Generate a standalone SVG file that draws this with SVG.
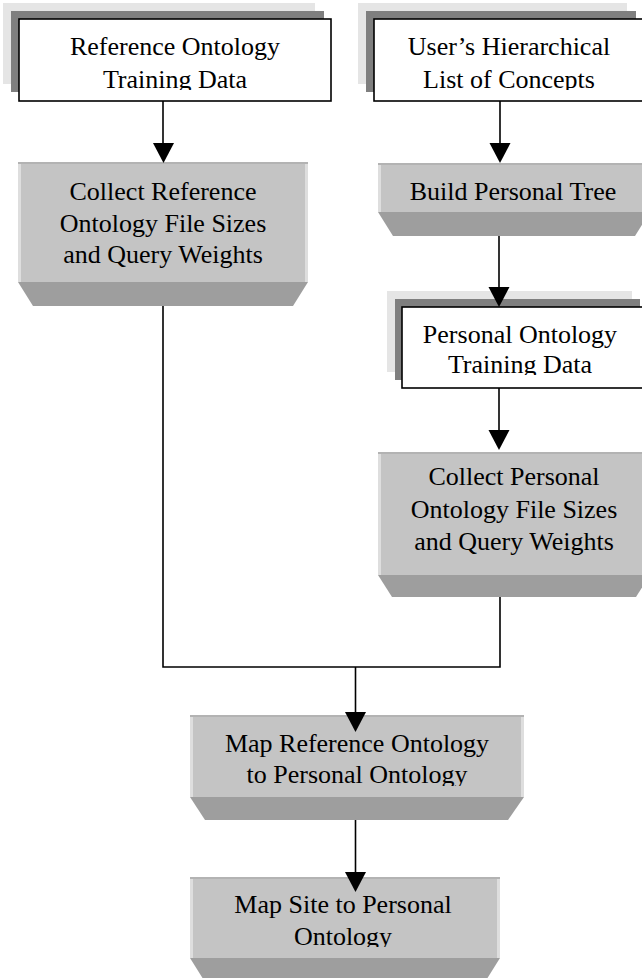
<svg xmlns="http://www.w3.org/2000/svg" width="642" height="978" viewBox="0 0 642 978">
<defs>
<style>
.lt{fill:#e5e5e5}
.dk{fill:#7f7f7f}
.wb{fill:#ffffff;stroke:#000;stroke-width:1.6}
.face{fill:#c4c4c4}
.hl{fill:#dedede}
.top{fill:#b3b3b3}
.bev{fill:#9e9e9e}
.t{font-family:"Liberation Serif","Times New Roman",serif;font-size:26px;fill:#000;text-anchor:middle}
.ln{fill:none;stroke:#000;stroke-width:1.6}
.ah{fill:#000}
</style>
<clipPath id="c1"><rect x="19" y="19" width="312" height="71"/></clipPath>
<clipPath id="c2"><rect x="374" y="19" width="270" height="71"/></clipPath>
<clipPath id="c5"><rect x="402" y="307" width="245" height="68"/></clipPath>
<clipPath id="c7"><rect x="190" y="715" width="334" height="71"/></clipPath>
<clipPath id="c8"><rect x="190" y="877" width="310" height="70"/></clipPath>
</defs>
<rect width="642" height="978" fill="#ffffff"/>

<g id="node1">
<rect class="lt" x="3" y="3" width="312" height="81"/>
<rect class="dk" x="11" y="11" width="313" height="81"/>
<rect class="wb" x="19" y="19" width="312" height="82"/>
<g clip-path="url(#c1)">
<text class="t" x="175" y="55">Reference Ontology</text>
<text class="t" x="175" y="88">Training Data</text>
</g>
</g>

<g id="node2">
<rect class="lt" x="358" y="3" width="269" height="81"/>
<rect class="dk" x="366" y="11" width="270" height="81"/>
<rect class="wb" x="374" y="19" width="270" height="82"/>
<g clip-path="url(#c2)">
<text class="t" x="509" y="55">User’s Hierarchical</text>
<text class="t" x="509" y="88">List of Concepts</text>
</g>
</g>

<g id="node3">
<rect class="face" x="18" y="162" width="290" height="120"/>
<rect class="hl" x="18" y="162" width="3" height="120"/>
<rect class="hl" x="305" y="162" width="3" height="120"/>
<rect class="top" x="18" y="162" width="290" height="2"/>
<polygon class="bev" points="18,282 308,282 293,306 33,306"/>
<text class="t" x="163" y="200">Collect Reference</text>
<text class="t" x="163" y="232">Ontology File Sizes</text>
<text class="t" x="163" y="263">and Query Weights</text>
</g>

<g id="node4">
<rect class="face" x="378" y="163" width="272" height="49"/>
<rect class="hl" x="378" y="163" width="3" height="49"/>
<rect class="top" x="378" y="163" width="272" height="2"/>
<polygon class="bev" points="378,212 650,212 635,236 393,236"/>
<text class="t" x="513" y="200">Build Personal Tree</text>
</g>

<g id="node5">
<rect class="lt" x="387" y="291" width="245" height="81"/>
<rect class="dk" x="395" y="299" width="245" height="81"/>
<rect class="wb" x="402" y="307" width="245" height="81"/>
<g clip-path="url(#c5)">
<text class="t" x="520" y="343">Personal Ontology</text>
<text class="t" x="520" y="373">Training Data</text>
</g>
</g>

<g id="node6">
<rect class="face" x="378" y="452" width="272" height="123"/>
<rect class="hl" x="378" y="452" width="3" height="123"/>
<rect class="top" x="378" y="452" width="272" height="2"/>
<polygon class="bev" points="378,575 650,575 636,597 392,597"/>
<text class="t" x="514" y="485">Collect Personal</text>
<text class="t" x="514" y="518">Ontology File Sizes</text>
<text class="t" x="514" y="550">and Query Weights</text>
</g>

<g id="node7">
<rect class="face" x="190" y="715" width="334" height="82"/>
<rect class="hl" x="190" y="715" width="3" height="82"/>
<rect class="hl" x="521" y="715" width="3" height="82"/>
<rect class="top" x="190" y="715" width="334" height="2"/>
<polygon class="bev" points="190,797 524,797 508,820 205,820"/>
<g clip-path="url(#c7)">
<text class="t" x="357" y="752">Map Reference Ontology</text>
<text class="t" x="357" y="783">to Personal Ontology</text>
</g>
</g>

<g id="node8">
<rect class="face" x="190" y="877" width="310" height="81"/>
<rect class="hl" x="190" y="877" width="3" height="81"/>
<rect class="hl" x="497" y="877" width="3" height="81"/>
<rect class="top" x="190" y="877" width="310" height="2"/>
<polygon class="bev" points="190,958 500,958 485,982 205,982"/>
<g clip-path="url(#c8)">
<text class="t" x="343" y="913">Map Site to Personal</text>
<text class="t" x="343" y="945">Ontology</text>
</g>
</g>

<g id="connectors">
<line class="ln" x1="163" y1="101" x2="163" y2="145"/>
<polygon class="ah" points="153,143 174,143 163.5,163"/>
<line class="ln" x1="500" y1="101" x2="500" y2="145"/>
<polygon class="ah" points="489.5,143 510.5,143 500,163"/>
<line class="ln" x1="499" y1="236" x2="499" y2="289"/>
<polygon class="ah" points="488.5,287 509.5,287 499,307"/>
<line class="ln" x1="499" y1="388" x2="499" y2="432"/>
<polygon class="ah" points="488.5,430 509.5,430 499,450"/>
<polyline class="ln" points="163,306 163,667 500,667 500,597"/>
<line class="ln" x1="355.5" y1="667" x2="355.5" y2="714"/>
<polygon class="ah" points="345,712 366,712 355.5,732"/>
<line class="ln" x1="355.5" y1="820" x2="355.5" y2="874"/>
<polygon class="ah" points="345,872 366,872 355.5,892"/>
</g>
</svg>
